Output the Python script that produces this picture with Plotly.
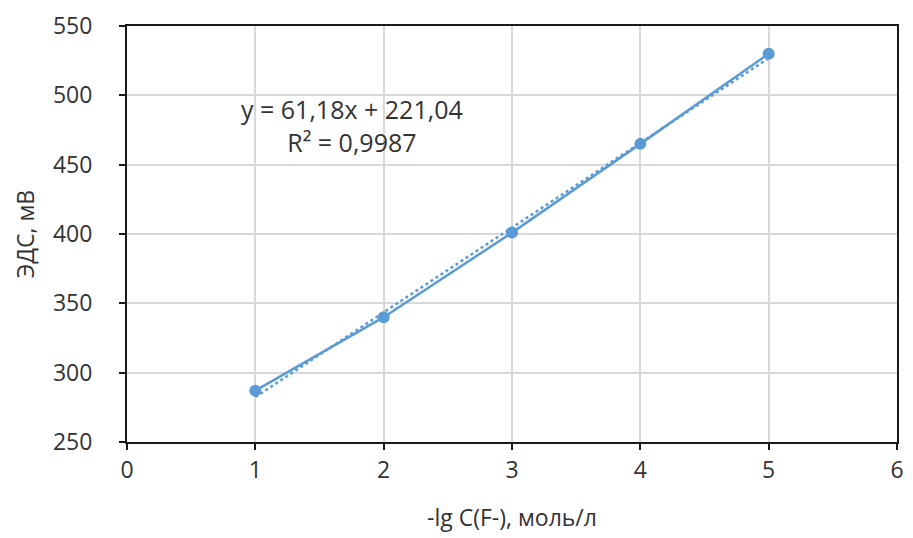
import numpy as np
import plotly.graph_objects as go

# Data
x_vals = [1, 2, 3, 4, 5]
y_vals = [287, 340, 401, 465, 530]
x_ticks = [0, 1, 2, 3, 4, 5, 6]
y_ticks = [250, 300, 350, 400, 450, 500, 550]
eq_text = "y = 61,18x + 221,04<br>R² = 0,9987"
x_title = "-lg C(F-), моль/л"
y_title = "ЭДС, мВ"

blue = "#5B9BD5"
text_color = "#333333"
font_family = "Open Sans, Noto Sans, sans-serif"

slope, intercept = np.polyfit(x_vals, y_vals, 1)
trend_x = [min(x_vals), max(x_vals)]
trend_y = [slope * v + intercept for v in trend_x]

fig = go.Figure()
fig.add_trace(go.Scatter(
    x=trend_x, y=trend_y, mode="lines",
    line=dict(color=blue, width=2.5, dash="dot"),
    showlegend=False, hoverinfo="skip",
))
fig.add_trace(go.Scatter(
    x=x_vals, y=y_vals, mode="lines+markers",
    line=dict(color=blue, width=2.5),
    marker=dict(color=blue, size=12),
    showlegend=False,
))

fig.add_annotation(
    x=1.75, y=478, xref="x", yref="y", text=eq_text, showarrow=False,
    font=dict(family=font_family, size=25, color=text_color), align="center",
)

axis_common = dict(
    showline=True, linecolor="#1a1a1a", linewidth=2, mirror=True,
    ticks="outside", ticklen=6, tickwidth=2, tickcolor="#1a1a1a",
    showgrid=True, gridcolor="#d9d9d9", gridwidth=2,
    zeroline=False,
    tickfont=dict(family=font_family, size=23, color=text_color),
)

fig.update_xaxes(
    range=[0, 6], tickvals=x_ticks, ticklabelstandoff=0,
    title=dict(text=x_title, standoff=26,
               font=dict(family=font_family, size=23, color=text_color)),
    **axis_common,
)
fig.update_yaxes(
    range=[250, 550], tickvals=y_ticks, ticklabelstandoff=22,
    title=dict(text=y_title, standoff=12,
               font=dict(family=font_family, size=23, color=text_color)),
    **axis_common,
)

fig.update_layout(
    width=913, height=538,
    margin=dict(l=127, r=9, t=22, b=96),
    plot_bgcolor="white", paper_bgcolor="white",
)

fig.write_html("out.html")
